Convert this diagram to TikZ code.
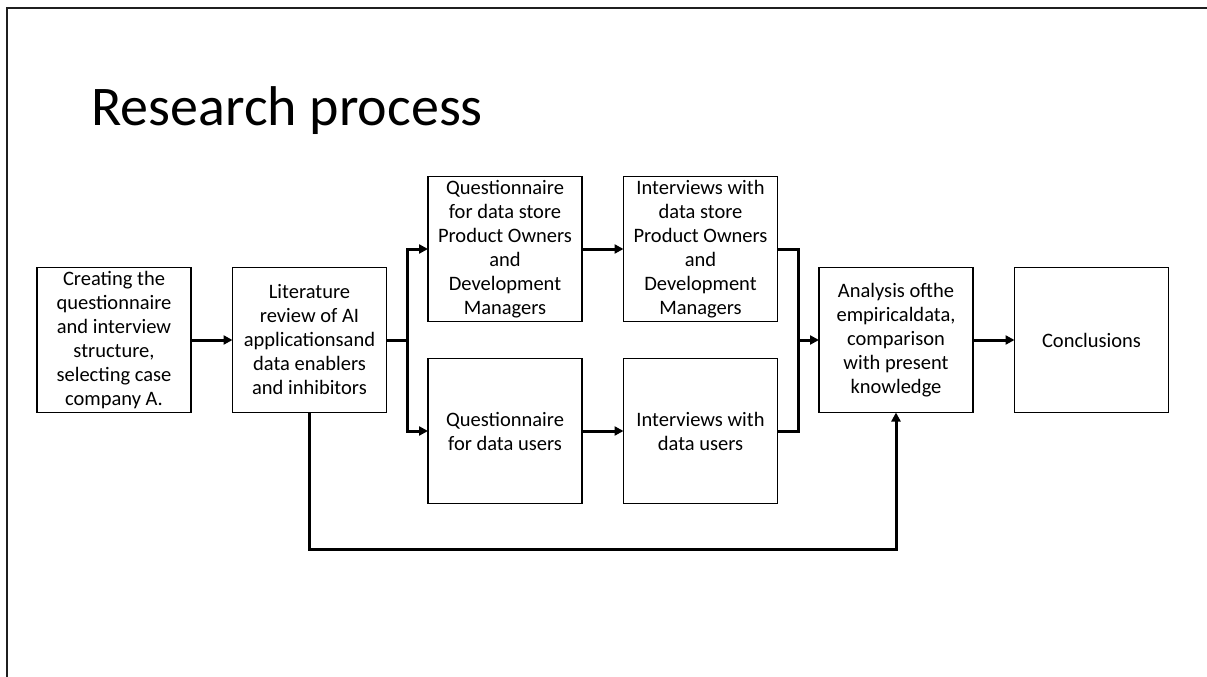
\documentclass[tikz,border=0pt]{standalone}
\usepackage{fontspec}
\setmainfont{Carlito}
\usetikzlibrary{arrows.meta,positioning,calc}

\begin{document}
\begin{tikzpicture}[
x=1pt,y=-1pt,
node distance=37pt and 41.5pt,
blk/.style={draw,line width=1.3pt,outer sep=0pt,minimum width=154pt,minimum height=145pt,inner sep=0pt,align=center,font=\fontsize{20.5}{24}\selectfont},
lnk/.style={line width=3pt},
arr/.style={lnk,-{Triangle[length=9pt,width=9pt]}}
]
\useasboundingbox (0,0) rectangle (1207,677);
\draw[line width=2pt,black!88] (7,677) -- (7,8) -- (1207,8);
\node[anchor=base west,font=\fontsize{56}{60}\selectfont] (title) at (88,125) {Research process};

\node[blk] (cre) at (114,340) {Creating the\\questionnaire\\and interview\\structure,\\selecting case\\company A.};
\node[blk,right=of cre] (lit) {Literature\\review of AI\\applicationsand\\data enablers\\and inhibitors};
\node[blk,right=of lit,yshift=91pt] (qpo) {Questionnaire\\for data store\\Product Owners\\and\\Development\\Managers};
\node[blk,right=of qpo] (ipo) {Interviews with\\data store\\Product Owners\\and\\Development\\Managers};
\node[blk,below=of qpo] (qdu) {Questionnaire\\for data users};
\node[blk,below=of ipo] (idu) {Interviews with\\data users};
\node[blk,right=of ipo,yshift=-91pt] (ana) {Analysis ofthe\\empiricaldata,\\comparison\\with present\\knowledge};
\node[blk,right=of ana] (con) {Conclusions};

\coordinate (split) at ($(lit.east)+(20.75,0)$);
\coordinate (join) at ($(ana.west)+(-20.75,0)$);
\coordinate (fb) at ($(lit.south)+(0,137)$);

\draw[arr] (cre)--(lit); \draw[lnk] (lit.east)--(split); \draw[arr] (split)|-(qpo.west); \draw[arr] (split)|-(qdu.west);
\draw[arr] (qpo)--(ipo); \draw[arr] (qdu)--(idu);
\draw[lnk] (ipo.east)-|(join); \draw[lnk] (idu.east)-|(join); \draw[arr] (join)--(ana.west);
\draw[arr] (ana)--(con);
\draw[arr] (lit.south)--(fb)-|(ana.south);
\end{tikzpicture}
\end{document}
